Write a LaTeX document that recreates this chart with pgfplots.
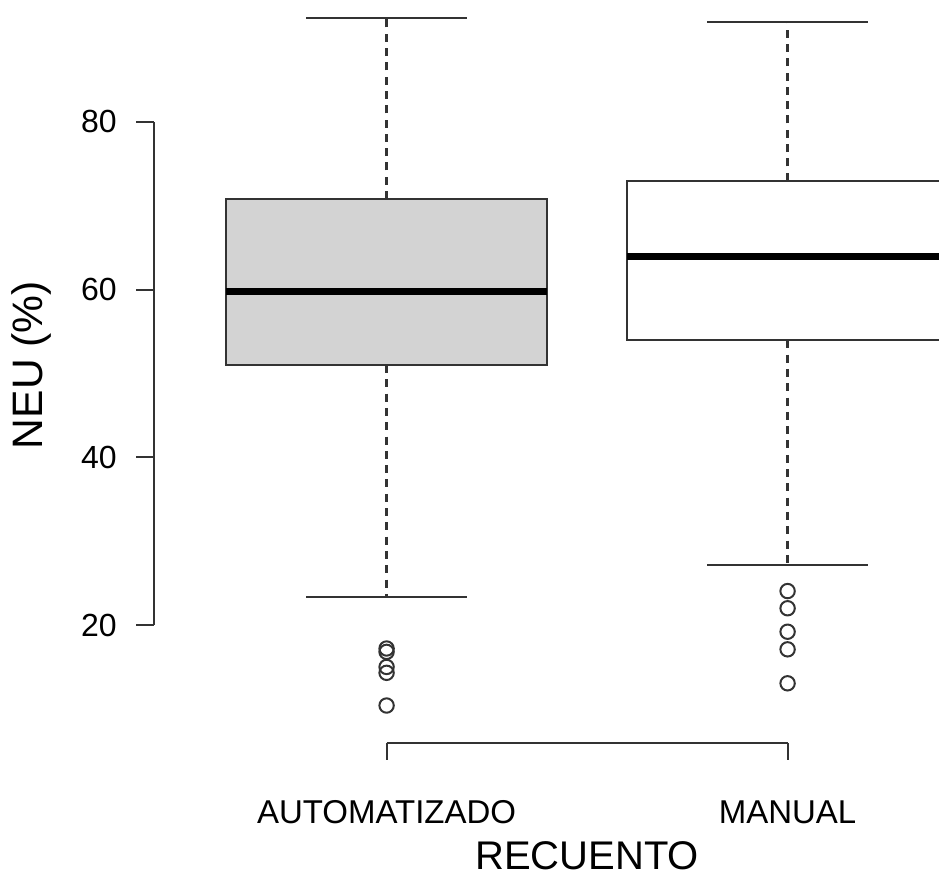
\documentclass[border=0pt]{standalone}
\usepackage{pgfplots}
\pgfplotsset{compat=1.18}
\usepackage{fontspec}
\setmainfont{Liberation Sans}
\definecolor{boxgray}{HTML}{D3D3D3}
\definecolor{linegray}{HTML}{333333}
\begin{document}
\begin{tikzpicture}
\begin{axis}[
  scale only axis,
  width=392.5bp, height=371.5bp,
  xmin=0.42, xmax=2.3776,
  ymin=5.93, ymax=94.54,
  axis line style={draw=none},
  xtick=\empty, ytick=\empty,
  clip mode=individual,
]
\coordinate (SW) at (rel axis cs:0,0);
% boxes
\addplot[draw=linegray, line width=1bp, fill=boxgray]
  coordinates {(0.6,51.0) (1.4,51.0) (1.4,70.8) (0.6,70.8)} -- cycle;
\addplot[draw=linegray, line width=1bp, fill=white]
  coordinates {(1.6,53.95) (2.4,53.95) (2.4,73.0) (1.6,73.0)} -- cycle;
% medians
\addplot[draw=black, line width=3.5bp] coordinates {(0.6,59.8) (1.4,59.8)};
\addplot[draw=black, line width=3.5bp] coordinates {(1.6,64.0) (2.4,64.0)};
% whiskers (dashed)
\addplot[draw=linegray, line width=1.1bp, dash pattern=on 4bp off 3.15bp] coordinates {(1,70.8) (1,92.4)};
\addplot[draw=linegray, line width=1.1bp, dash pattern=on 4bp off 3.15bp] coordinates {(1,51.0) (1,23.4)};
\addplot[draw=linegray, line width=1.1bp, dash pattern=on 4bp off 3.15bp] coordinates {(2,73.0) (2,91.9)};
\addplot[draw=linegray, line width=1.1bp, dash pattern=on 4bp off 3.15bp] coordinates {(2,53.95) (2,27.1)};
% whisker caps
\addplot[draw=linegray, line width=1bp] coordinates {(0.8,92.4) (1.2,92.4)};
\addplot[draw=linegray, line width=1bp] coordinates {(0.8,23.4) (1.2,23.4)};
\addplot[draw=linegray, line width=1bp] coordinates {(1.8,91.9) (2.2,91.9)};
\addplot[draw=linegray, line width=1bp] coordinates {(1.8,27.1) (2.2,27.1)};
% outliers
\addplot[only marks, mark=o, mark size=3.6bp, mark options={line width=1bp, draw=linegray}]
  coordinates {(1,17.2) (1,16.8) (1,15.0) (1,14.3) (1,10.4)};
\addplot[only marks, mark=o, mark size=3.6bp, mark options={line width=1bp, draw=linegray}]
  coordinates {(2,24.05) (2,22.0) (2,19.2) (2,17.1) (2,13.05)};
% R-style axes
\draw[linegray, line width=1bp] (axis cs:0.42,20) -- (axis cs:0.42,80);
\pgfplotsinvokeforeach{20,40,60,80}{
  \draw[linegray, line width=1bp] (axis cs:0.42,#1) -- ([xshift=-9bp]axis cs:0.42,#1);
  \node[anchor=east, inner sep=0pt, font=\fontsize{16bp}{19bp}\selectfont]
    at ([xshift=-18.4bp]axis cs:0.42,#1) {#1};
}
\draw[linegray, line width=1bp] (axis cs:1,5.93) -- (axis cs:2,5.93);
\draw[linegray, line width=1bp] (axis cs:1,5.93) -- ([yshift=-8.5bp]axis cs:1,5.93);
\draw[linegray, line width=1bp] (axis cs:2,5.93) -- ([yshift=-8.5bp]axis cs:2,5.93);
\node[anchor=base, inner sep=0pt, font=\fontsize{16.5bp}{19bp}\selectfont]
  at ([yshift=-40bp]axis cs:1,5.93) {AUTOMATIZADO};
\node[anchor=base, inner sep=0pt, font=\fontsize{16.5bp}{19bp}\selectfont]
  at ([yshift=-40bp]axis cs:2,5.93) {MANUAL};
\node[anchor=base, inner sep=0pt, font=\fontsize{20bp}{24bp}\selectfont]
  at ([yshift=-63bp]axis cs:1.5,5.93) {RECUENTO};
\node[anchor=base, rotate=90, inner sep=0pt, font=\fontsize{21.3bp}{25bp}\selectfont]
  at ([xshift=-55.5bp]axis cs:0.42,51) {NEU (\%)};
\end{axis}
\pgfresetboundingbox
\useasboundingbox ([shift={(-77bp,-68.5bp)}]SW) rectangle ++(469.5bp,440bp);
\end{tikzpicture}
\end{document}
